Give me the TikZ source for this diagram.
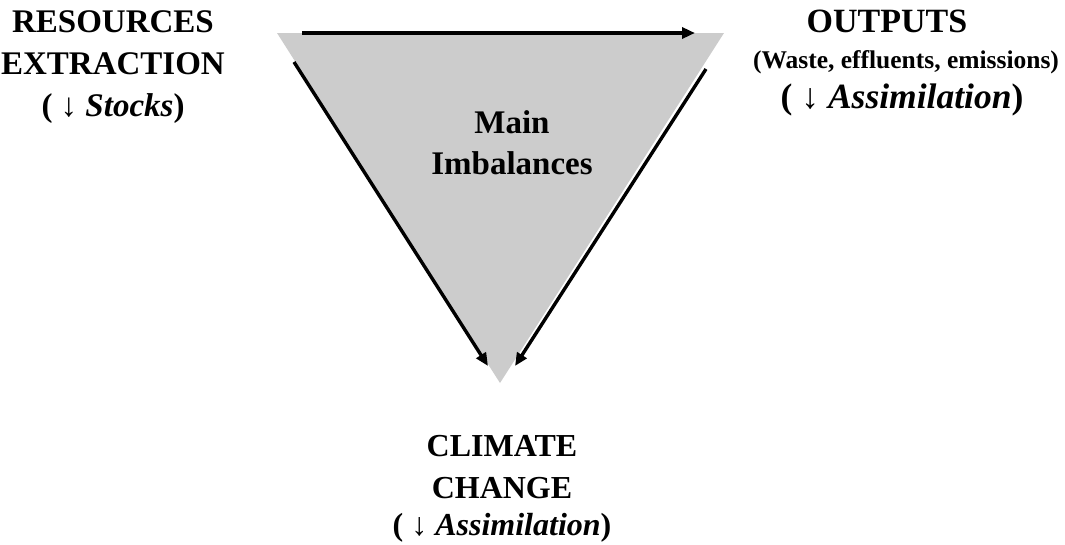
\documentclass[tikz,border=0pt]{standalone}
\usepackage{fontspec}
\setmainfont{Liberation Serif}
\usetikzlibrary{arrows.meta}
\begin{document}
\begin{tikzpicture}[x=1pt,y=-1pt,
  lbl/.style={font=\bfseries, align=center, inner sep=0pt},
  flow/.style={line width=3.4pt, -{Triangle[length=13pt,width=11pt]}}]
\useasboundingbox (0,0) rectangle (1065,544);
\fill[gray!40] (277,33) coordinate (tl) -- (724,33) coordinate (tr) -- (500,383) coordinate (bt) -- cycle;
\coordinate (a1) at (302,33);
\coordinate (a2) at (695,33);
\coordinate (b1) at (294,62);
\coordinate (b2) at (488,366);
\coordinate (c1) at (706,69);
\coordinate (c2) at (515,366);
\draw[flow] (a1) -- (a2);
\draw[flow] (b1) -- (b2);
\draw[flow] (c1) -- (c2);
\node[lbl, font=\bfseries\fontsize{33}{42}\selectfont] (res) at (113,67) {RESOURCES\\EXTRACTION\\( ↓ \textit{Stocks})};
\node[lbl, font=\bfseries\fontsize{34}{40}\selectfont] (out) at (887,21) {OUTPUTS};
\node[lbl, font=\bfseries\fontsize{25.5}{30}\selectfont] (waste) at (906,62) {(Waste, effluents, emissions)};
\node[lbl, font=\bfseries\fontsize{35.5}{40}\selectfont] (assim) at (902,100) {( ↓ \textit{Assimilation})};
\node[lbl, font=\bfseries\fontsize{33}{41}\selectfont] (main) at (512,143) {Main\\Imbalances};
\node[lbl, font=\bfseries\fontsize{32}{42}\selectfont] (cc) at (502,489) {CLIMATE\\CHANGE\\[-5pt]( ↓ \textit{Assimilation})};
\end{tikzpicture}
\end{document}
